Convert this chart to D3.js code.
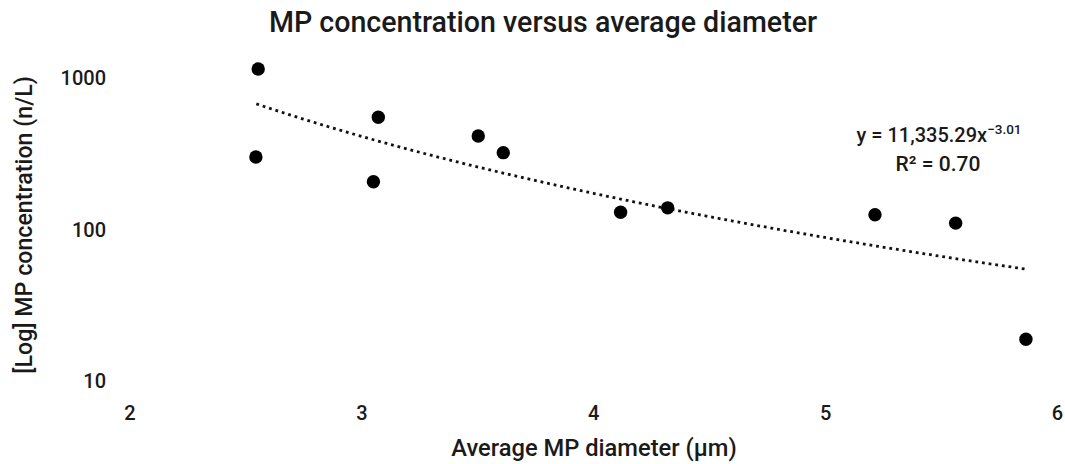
<!DOCTYPE html>
<html>
<head>
<meta charset="utf-8">
<script src="https://cdn.jsdelivr.net/npm/d3@7"></script>
<style>
  body { margin: 0; background: #fff; }
  svg text { font-family: Roboto, "DejaVu Sans", sans-serif; fill: #1a1a1a; font-weight: 500; }
</style>
</head>
<body>
<svg id="chart" width="1065" height="464"></svg>
<script>
const diameters = [2.555, 2.545, 3.073, 3.052, 3.504, 3.612, 4.118, 4.321, 5.215, 5.563, 5.866];
const concentrations = [1155, 303, 555, 208, 417, 324, 131, 140, 126, 111, 19.0];
const xTicks = [2, 3, 4, 5, 6];
const yTicks = [10, 100, 1000];
const trendCoef = [11335.29, -3.01];
const trendRange = [2.547, 5.86];
const titleText = "MP concentration versus average diameter";
const xTitle = "Average MP diameter (\u00b5m)";
const yTitle = "[Log] MP concentration (n/L)";

const svg = d3.select("#chart");
const x = d3.scaleLinear().domain([2, 6]).range([129.5, 1057]);
const y = d3.scaleLog().domain([10, 1000]).range([381.5, 78.5]);

// Axes (no lines, labels only)
const xAxis = svg.append("g").attr("transform", "translate(0,381.5)")
  .call(d3.axisBottom(x).tickValues(xTicks).tickFormat(d3.format("d")).tickSize(0).tickPadding(24));
xAxis.select(".domain").remove();
xAxis.selectAll("text").style("font-size", "20px").attr("fill", "#1a1a1a");

const yAxis = svg.append("g").attr("transform", "translate(106,0)")
  .call(d3.axisLeft(y).tickValues(yTicks).tickFormat(d3.format("d")).tickSize(0).tickPadding(0));
yAxis.select(".domain").remove();
yAxis.selectAll("text").style("font-size", "20px").attr("fill", "#1a1a1a");

// Trendline
const trendPts = d3.range(0, 101).map(i => {
  const xv = trendRange[0] + (trendRange[1] - trendRange[0]) * i / 100;
  return [xv, trendCoef[0] * Math.pow(xv, trendCoef[1])];
});
svg.append("path")
  .datum(trendPts)
  .attr("fill", "none")
  .attr("stroke", "#111")
  .attr("stroke-width", 2.8)
  .attr("stroke-dasharray", "2.8,3.9")
  .attr("d", d3.line().x(d => x(d[0])).y(d => y(d[1])));

// Points
svg.append("g").selectAll("circle")
  .data(diameters.map((d, i) => [d, concentrations[i]]))
  .join("circle")
  .attr("cx", d => x(d[0]))
  .attr("cy", d => y(d[1]))
  .attr("r", 6.7)
  .attr("fill", "#000");

// Titles
svg.append("text").attr("x", 543).attr("y", 32).attr("text-anchor", "middle")
  .style("font-size", "28.6px").text(titleText);
svg.append("text").attr("x", 594).attr("y", 456).attr("text-anchor", "middle")
  .style("font-size", "23.7px").text(xTitle);
svg.append("text").attr("transform", "translate(32,225) rotate(-90)").attr("text-anchor", "middle")
  .style("font-size", "23.2px").text(yTitle);

// Equation
const eq = svg.append("text").attr("x", 939).attr("y", 142).attr("text-anchor", "middle")
  .style("font-size", "20px");
eq.append("tspan").text("y = " + d3.format(",.2f")(trendCoef[0]) + "x");
eq.append("tspan").attr("dy", -8).style("font-size", "13.5px").text(d3.format(".2f")(trendCoef[1]).replace("-", "\u2212"));
svg.append("text").attr("x", 938).attr("y", 171).attr("text-anchor", "middle")
  .style("font-size", "21px").text("R\u00b2 = 0.70");
</script>
</body>
</html>
